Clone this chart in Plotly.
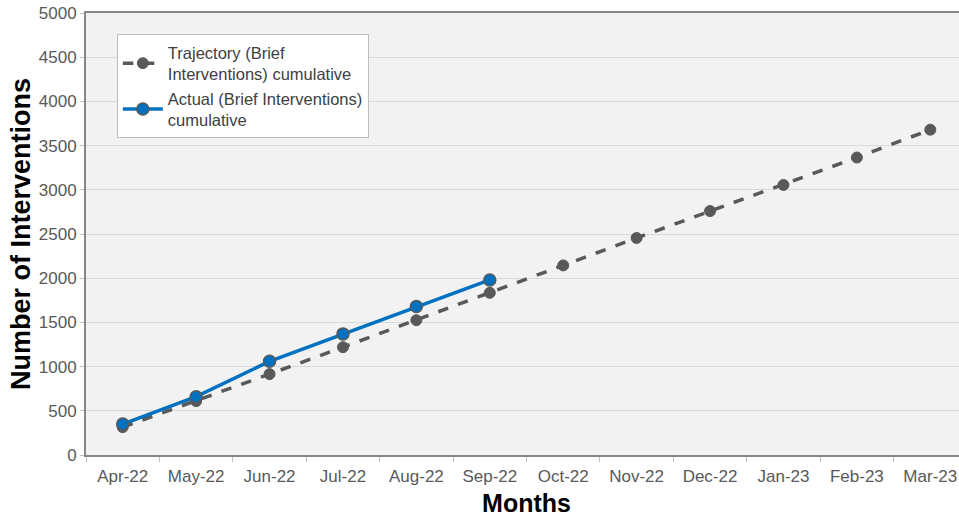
import plotly.graph_objects as go

months = ["Apr-22", "May-22", "Jun-22", "Jul-22", "Aug-22", "Sep-22",
          "Oct-22", "Nov-22", "Dec-22", "Jan-23", "Feb-23", "Mar-23"]
trajectory = [315, 610, 915, 1220, 1525, 1835, 2145, 2455, 2760, 3055, 3365, 3680]
actual_months = months[:6]
actual = [350, 660, 1060, 1370, 1680, 1980]

fig = go.Figure()
fig.add_trace(go.Scatter(
    x=months, y=trajectory, mode="lines+markers",
    name="Trajectory (Brief<br>Interventions) cumulative",
    line=dict(color="#595959", width=3.5, dash="dash"),
    marker=dict(color="#595959", size=11, line=dict(color="#595959", width=1)),
))
fig.add_trace(go.Scatter(
    x=actual_months, y=actual, mode="lines+markers",
    name="Actual (Brief Interventions)<br>cumulative",
    line=dict(color="#0070C0", width=3.5),
    marker=dict(color="#0070C0", size=12, line=dict(color="#595959", width=1.5)),
))

fig.update_layout(
    width=967, height=519,
    margin=dict(l=86, r=0, t=13, b=64, autoexpand=False),
    paper_bgcolor="white",
    plot_bgcolor="#F2F2F2",
    font=dict(family="Liberation Sans, Arial, sans-serif", size=17, color="#595959"),
    showlegend=True,
    legend=dict(
        x=0.035, y=0.952, xanchor="left", yanchor="top",
        bgcolor="white", bordercolor="#BFBFBF", borderwidth=1,
        font=dict(size=16.5, color="#404040"),
        itemwidth=40,
    ),
    xaxis=dict(
        type="category", categoryorder="array", categoryarray=months,
        range=[-0.5, 11.5], automargin=False,
        showgrid=False, showline=True, linecolor="#868686", linewidth=2,
        mirror=True,
        ticks="outside", tickson="boundaries", ticklen=5, tickcolor="#BFBFBF",
        ticklabelstandoff=5,
        tickfont=dict(size=17, color="#595959"),
        title=dict(text="<b>Months</b>", font=dict(size=25, color="black"), standoff=9),
    ),
    yaxis=dict(
        range=[0, 5000], dtick=500, automargin=False,
        showgrid=True, gridcolor="#D9D9D9", gridwidth=1,
        showline=True, linecolor="#868686", linewidth=2, mirror=True,
        ticks="outside", ticklen=4, tickcolor="#BFBFBF",
        ticklabeloverflow="allow",
        tickfont=dict(size=17, color="#595959"),
        zeroline=False,
        title=dict(text="<b>Number of Interventions</b>", font=dict(size=27, color="black"), standoff=0),
    ),
)

fig.write_html(
    "out.html",
    config={"displayModeBar": False},
    post_script="document.body.style.margin='0';document.body.style.overflow='hidden';",
)
